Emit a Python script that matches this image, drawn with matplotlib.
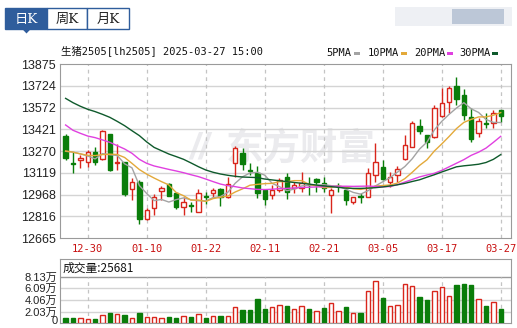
import matplotlib
matplotlib.use('Agg')
import matplotlib.pyplot as plt
from matplotlib.patches import Rectangle, Polygon
import numpy as np

# ---- data ----
tick_idx = [3, 11, 19, 27, 35, 43, 51, 59]
tick_lab = ['12-30', '01-10', '01-22', '02-11', '02-21', '03-05', '03-17', '03-27']

opens = [13374, 13190, 13208, 13191, 13263, 13214, 13388, 13184, 13191, 13004,
         13052, 12795, 12872, 12992, 13041, 12976, 12883, 12893, 12848, 12955,
         12976, 13004, 12952, 13184, 13254, 13136, 13115, 12997, 12962, 12997,
         13087, 13010, 13015, 13036, 13073, 13045, 12964, 13029, 12999, 12918,
         12954, 12952, 13103, 13156, 13057, 13103, 13212, 13300, 13444, 13379,
         13365, 13513, 13608, 13722, 13659, 13509, 13393, 13465, 13462, 13555]
highs = [13388, 13265, 13242, 13277, 13296, 13415, 13390, 13317, 13196, 13080,
         13068, 12876, 12969, 13027, 13050, 12987, 12952, 12917, 13004, 12983,
         13011, 13011, 13091, 13305, 13289, 13184, 13166, 13008, 13036, 13082,
         13115, 13057, 13126, 13091, 13085, 13091, 13010, 13050, 13010, 12952,
         12976, 13149, 13323, 13207, 13126, 13166, 13381, 13481, 13490, 13381,
         13590, 13706, 13722, 13787, 13699, 13567, 13497, 13532, 13555, 13555]
lows = [13207, 13119, 13150, 13161, 13173, 13210, 13132, 13138, 12957, 12929,
        12760, 12793, 12825, 12929, 12957, 12867, 12825, 12844, 12844, 12902,
        12952, 12890, 12945, 13091, 13138, 13103, 12941, 12897, 12934, 12985,
        12934, 12976, 12987, 12964, 12987, 12982, 12841, 12987, 12894, 12901,
        12911, 12948, 13057, 13068, 13022, 13057, 13207, 13296, 13388, 13289,
        13358, 13509, 13532, 13590, 13486, 13335, 13370, 13428, 13428, 13474]
closes = [13223, 13180, 13219, 13261, 13191, 13409, 13138, 13196, 12969, 13052,
          12795, 12860, 12948, 13011, 12959, 12883, 12917, 12887, 12976, 12950,
          12999, 12952, 13038, 13289, 13178, 13130, 12976, 12938, 13001, 13066,
          12987, 13034, 13045, 13032, 13057, 13010, 12999, 13025, 12929, 12948,
          12950, 13119, 13191, 13073, 13091, 13142, 13312, 13462, 13411, 13335,
          13567, 13606, 13706, 13632, 13520, 13353, 13479, 13460, 13532, 13516]

ma5 = [13268, 13262, 13250, 13235, 13215, 13252, 13244, 13239, 13181, 13153,
       13030, 12974, 12925, 12933, 12915, 12932, 12944, 12931, 12924, 12923,
       12946, 12953, 12983, 13046, 13091, 13117, 13122, 13102, 13045, 13022,
       12994, 13005, 13027, 13033, 13031, 13036, 13029, 13025, 13004, 12982,
       12970, 12994, 13027, 13056, 13085, 13123, 13162, 13216, 13284, 13332,
       13417, 13476, 13525, 13569, 13606, 13563, 13538, 13489, 13469, 13468]
ma10 = [13270, 13262, 13250, 13240, 13238, 13245, 13248, 13246, 13225, 13184,
        13141, 13109, 13082, 13057, 13034, 12981, 12959, 12928, 12929, 12919,
        12939, 12948, 12957, 12985, 13007, 13032, 13038, 13043, 13045, 13057,
        13056, 13064, 13064, 13039, 13027, 13015, 13017, 13026, 13018, 13007,
        13003, 13011, 13026, 13030, 13034, 13047, 13078, 13122, 13170, 13209,
        13270, 13319, 13371, 13426, 13469, 13490, 13507, 13507, 13519, 13537]
ma20 = [13451, 13414, 13393, 13374, 13363, 13347, 13330, 13307, 13284, 13254,
        13212, 13184, 13166, 13154, 13142, 13131, 13119, 13105, 13092, 13075,
        13057, 13040, 13029, 13022, 13013, 13008, 13003, 13002, 13004, 13008,
        13010, 13013, 13016, 13018, 13020, 13022, 13024, 13025, 13025, 13024,
        13025, 13026, 13024, 13021, 13023, 13036, 13054, 13072, 13090, 13103,
        13115, 13135, 13160, 13185, 13210, 13240, 13262, 13290, 13330, 13372]
ma30 = [13636, 13606, 13581, 13560, 13544, 13525, 13504, 13476, 13446, 13411,
        13377, 13333, 13295, 13272, 13249, 13231, 13212, 13187, 13161, 13138,
        13122, 13110, 13101, 13094, 13089, 13087, 13085, 13075, 13069, 13063,
        13057, 13051, 13046, 13040, 13033, 13027, 13022, 13017, 13012, 13010,
        13010, 13012, 13015, 13020, 13027, 13035, 13045, 13058, 13070, 13088,
        13105, 13124, 13142, 13160, 13167, 13172, 13178, 13190, 13212, 13245]

volumes = [9360, 9360, 9360, 7600, 8190, 14600, 18700, 16400, 14600, 9360,
           18700, 11700, 11700, 9360, 11100, 9950, 12900, 11100, 16400, 9950,
           12900, 12900, 12900, 28100, 23400, 23400, 42700, 25200, 28100, 31600,
           30400, 25200, 29800, 25200, 21600, 26900, 35700, 21600, 28700, 18100,
           18100, 56200, 73700, 44500, 29800, 31600, 69000, 64900, 46200, 39800,
           56200, 63200, 48000, 67300, 69000, 67300, 42100, 30400, 37400, 25681]
vol_up = [0, 0, 1, 1, 0, 1, 0, 1, 0, 1,
          0, 1, 1, 1, 0, 0, 1, 0, 1, 0,
          1, 0, 1, 1, 0, 0, 0, 0, 1, 1,
          0, 1, 1, 0, 1, 0, 1, 1, 0, 1,
          0, 1, 1, 0, 1, 1, 1, 1, 0, 0,
          1, 1, 1, 0, 0, 0, 1, 0, 1, 0]

price_labels = ['12665', '12816', '12968', '13119', '13270', '13421', '13572', '13724', '13875']
vol_labels = ['0', '2.03万', '4.06万', '6.09万', '8.13万']
vol_ticks = [0, 20325, 40650, 60975, 81300]

RED = '#d9261c'
GREEN = '#0a7d0a'
GRID = '#d4d4d4'
EDGE = '#9a9a9a'

plt.rcParams['font.family'] = ['Liberation Sans', 'Noto Sans CJK SC']

W, H = 517, 328
fig = plt.figure(figsize=(W / 100, H / 100), dpi=100)


def fx(v):
    return v / W


def fy(v):
    return 1 - v / H


ax = fig.add_axes([fx(60), fy(238), (510.7 - 60) / W, (238 - 64) / H])
axv = fig.add_axes([fx(60), fy(323.3), (510.7 - 60) / W, (323.3 - 259) / H])

o = np.array(opens)
c = np.array(closes)
x = np.arange(len(c))
up = c >= o

# grid
yt = np.linspace(12665, 13875, 9)
for v in yt[1:-1]:
    ax.axhline(v, color=GRID, lw=1, zorder=1)
ax.vlines(tick_idx, 12665, 13875, colors='#c4c4c4', lw=0.9, linestyles=(0, (3, 3)), zorder=1)

# watermark
ax.text(0.535, 0.51, '东方财富', transform=ax.transAxes, fontsize=27, fontweight='bold',
        color='#ebebee', ha='center', va='center', family='Noto Sans CJK SC', zorder=0.5)
ax.text(0.31, 0.51, '//', transform=ax.transAxes, fontsize=26, fontweight='bold',
        color='#ebebee', ha='center', va='center', style='italic', zorder=0.5)

# candles
ax.vlines(x, lows, highs, colors=np.where(up, RED, GREEN), lw=1, zorder=3)
bot = np.minimum(o, c)
hgt = np.maximum(np.abs(c - o), 5)
ax.bar(x[up], hgt[up], bottom=bot[up], width=0.6, facecolor='white', edgecolor=RED, lw=1, zorder=4)
ax.bar(x[~up], hgt[~up], bottom=bot[~up], width=0.6, facecolor=GREEN, edgecolor=GREEN, lw=1, zorder=4)

# moving averages
ax.plot(x, ma5, color='#a3a3a3', lw=1, zorder=5)
ax.plot(x, ma10, color='#e3a93a', lw=1, zorder=5)
ax.plot(x, ma20, color='#e040e0', lw=1, zorder=5)
ax.plot(x, ma30, color='#0f5a2c', lw=1, zorder=5)

ax.set_xlim(-0.76, 60.35)
ax.set_ylim(12665, 13875)
ax.set_yticks(yt, price_labels)
ax.set_xticks(tick_idx, tick_lab)
ax.tick_params(axis='y', length=0, pad=3, labelsize=9, labelcolor='#222222')
ax.tick_params(axis='x', length=0, pad=4, labelsize=7.5, labelcolor='#c81010')
for lab in ax.get_xticklabels():
    lab.set_family('DejaVu Sans Mono')
for s in ax.spines.values():
    s.set_color(EDGE)

# volume panel
vu = np.array(vol_up, dtype=bool)
vol = np.array(volumes)
for v in vol_ticks[1:-1]:
    axv.axhline(v, color=GRID, lw=1, zorder=1)
axv.axhline(81300, color=EDGE, lw=1, zorder=1)
axv.vlines(tick_idx, 0, 81300, colors='#c4c4c4', lw=0.9, linestyles=(0, (3, 3)), zorder=1)
axv.bar(x[vu], vol[vu], width=0.6, facecolor='white', edgecolor=RED, lw=1, zorder=3)
axv.bar(x[~vu], vol[~vu], width=0.6, facecolor=GREEN, edgecolor=GREEN, lw=1, zorder=3)
axv.set_xlim(-0.76, 60.35)
axv.set_ylim(0, 112180)
axv.set_xticks([])
# the zero label is placed by hand a little higher so it is not cut at the bottom edge
axv.set_yticks(vol_ticks[1:], vol_labels[1:])
axv.tick_params(axis='y', length=0, pad=2, labelsize=8, labelcolor='#222222')
fig.text(fx(58), fy(321.5), vol_labels[0], fontsize=8, color='#222222', ha='right', va='center')
for s in axv.spines.values():
    s.set_color(EDGE)
axv.text(0.005, 0.86, '成交量:25681', transform=axv.transAxes, fontsize=8.5,
         family=['Noto Sans CJK SC'], color='#111111', va='center', ha='left')

# header texts
fig.text(fx(61), fy(51), '生猪2505[lh2505] 2025-03-27 15:00', fontsize=7.5,
         family=['DejaVu Sans Mono', 'Noto Sans CJK SC'], va='center', ha='left', color='#111111')

leg = [('5PMA', 326.7, '#a3a3a3'), ('10PMA', 368, '#e3a93a'),
       ('20PMA', 414, '#e040e0'), ('30PMA', 459, '#0f5a2c')]
for name, lx, col in leg:
    t = fig.text(fx(lx), fy(52.5), name, fontsize=7.5, family='DejaVu Sans Mono',
                 va='center', ha='left', color='#111111')
    wpx = 6.25 * len(name)
    fig.add_artist(Rectangle((fx(lx + wpx + 2), fy(54.5)), 6 / W, 3 / H,
                             transform=fig.transFigure, color=col, lw=0))

# period tabs
BLUE = '#2f5d9c'
tabs = [('日K', 5, 46.7, True), ('周K', 46.7, 87.3, False), ('月K', 87.3, 128.7, False)]
for name, x0, x1, sel in tabs:
    fig.add_artist(Rectangle((fx(x0), fy(29.3)), (x1 - x0) / W, 21 / H,
                             transform=fig.transFigure, facecolor=BLUE if sel else 'white',
                             edgecolor=BLUE, lw=1))
    fig.text(fx((x0 + x1) / 2), fy(19), name, fontsize=9.5,
             family=['DejaVu Serif', 'Noto Sans CJK SC'],
             color='white' if sel else '#222222', ha='center', va='center')
fig.add_artist(Polygon([(fx(22.5), fy(29.3)), (fx(30.5), fy(29.3)), (fx(26.5), fy(33.5))],
                       closed=True, transform=fig.transFigure, color=BLUE, lw=0))

# blurred badge at top right
fig.add_artist(Rectangle((fx(395), fy(26)), 117 / W, 19 / H, transform=fig.transFigure,
                         facecolor='#eef0f4', lw=0))
fig.add_artist(Rectangle((fx(452), fy(24)), 52 / W, 15 / H, transform=fig.transFigure,
                         facecolor='#bcc7d7', lw=0))

fig.savefig('out.png', dpi=100)
